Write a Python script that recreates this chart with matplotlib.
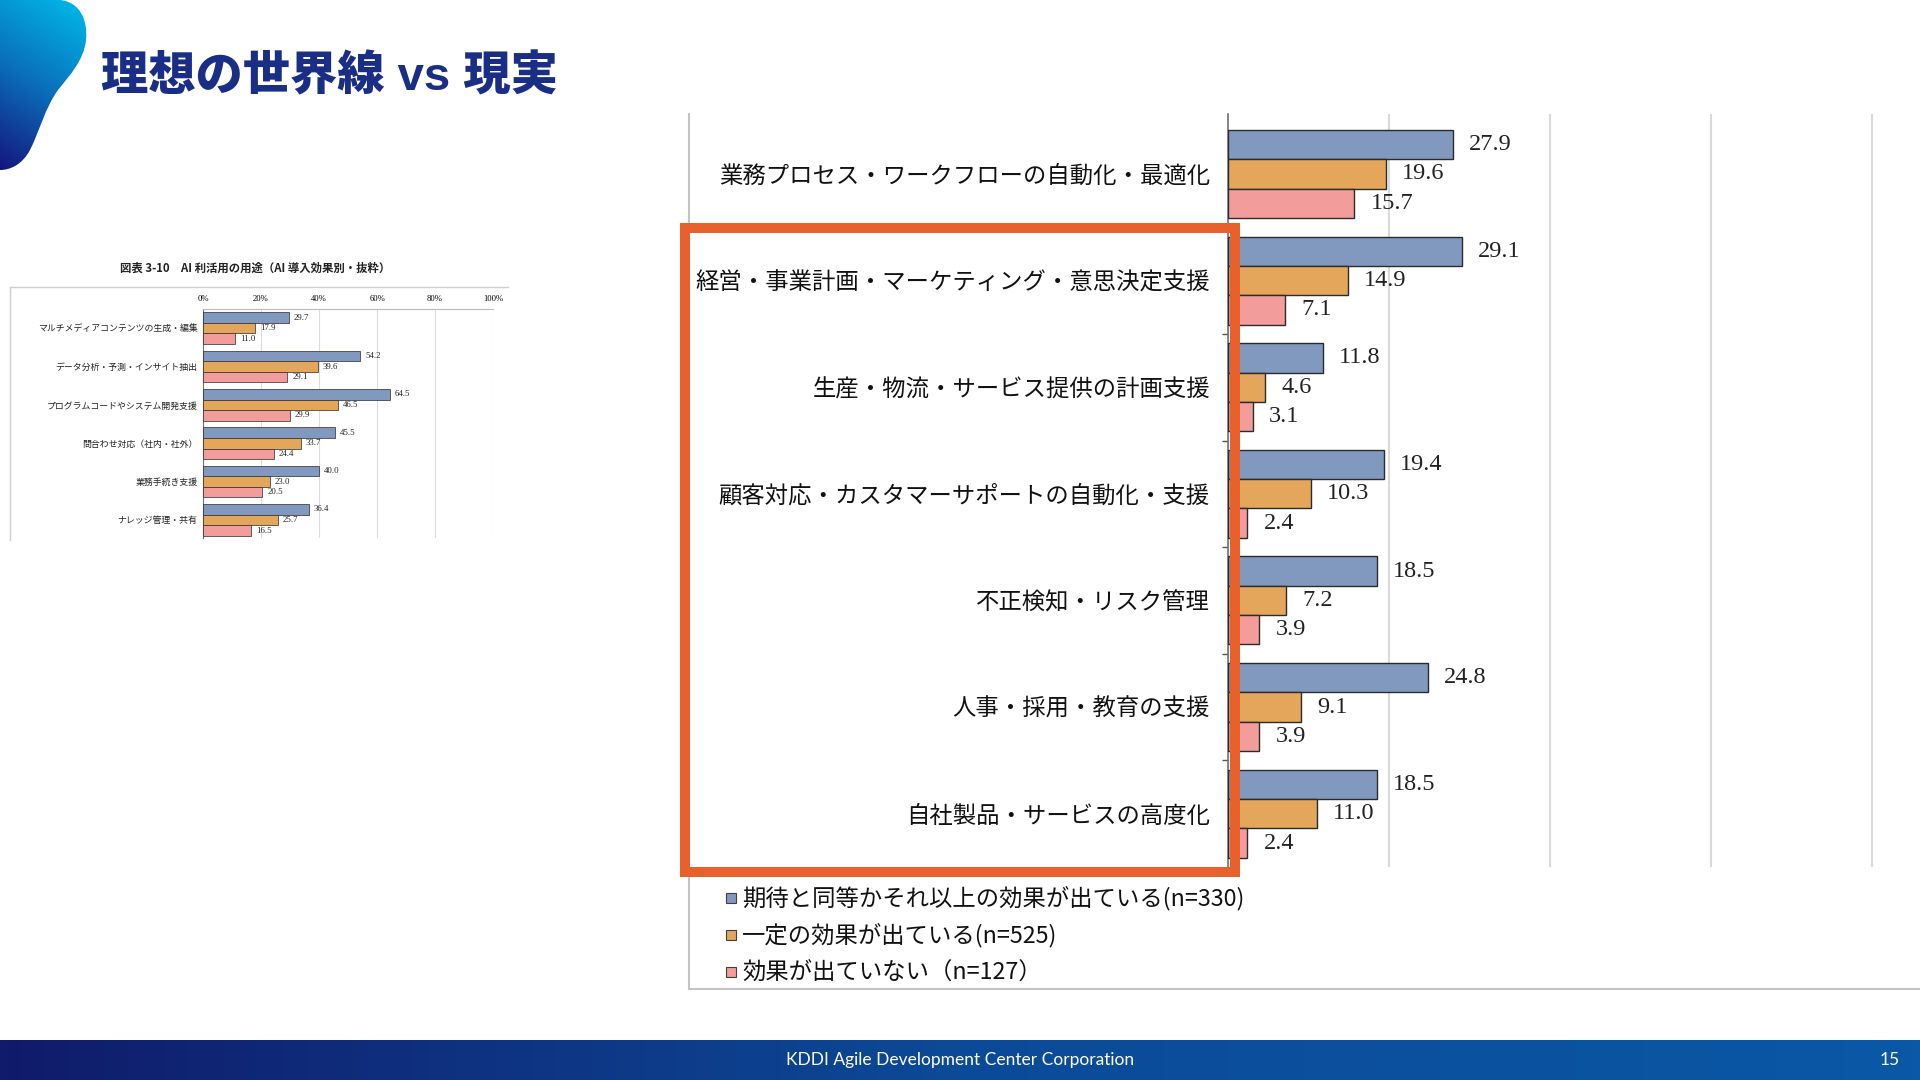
import matplotlib.pyplot as plt
import numpy as np
from matplotlib.patches import Rectangle, PathPatch
from matplotlib.path import Path
from matplotlib.colors import LinearSegmentedColormap

plt.rcParams['font.family'] = ['Noto Sans CJK JP', 'DejaVu Sans']

# Main chart (right)
categories = ['業務プロセス・ワークフローの自動化・最適化',
              '経営・事業計画・マーケティング・意思決定支援',
              '生産・物流・サービス提供の計画支援',
              '顧客対応・カスタマーサポートの自動化・支援',
              '不正検知・リスク管理',
              '人事・採用・教育の支援',
              '自社製品・サービスの高度化']
expected_or_more = [27.9, 29.1, 11.8, 19.4, 18.5, 24.8, 18.5]
some_effect = [19.6, 14.9, 4.6, 10.3, 7.2, 9.1, 11.0]
no_effect = [15.7, 7.1, 3.1, 2.4, 3.9, 3.9, 2.4]
series_labels = ['期待と同等かそれ以上の効果が出ている(n=330)',
                 '一定の効果が出ている(n=525)',
                 '効果が出ていない（n=127）']

# Small chart (left)
inset_title = '図表 3-10　AI 利活用の用途（AI 導入効果別・抜粋）'
inset_categories = ['マルチメディアコンテンツの生成・編集',
                    'データ分析・予測・インサイト抽出',
                    'プログラムコードやシステム開発支援',
                    '問合わせ対応（社内・社外）',
                    '業務手続き支援',
                    'ナレッジ管理・共有']
inset_expected = [29.7, 54.2, 64.5, 45.5, 40.0, 36.4]
inset_some = [17.9, 39.6, 46.5, 33.7, 23.0, 25.7]
inset_none = [11.0, 29.1, 29.9, 24.4, 20.5, 16.5]
inset_ticks = [0, 20, 40, 60, 80, 100]

title = '理想の世界線 vs 現実'
footer = 'KDDI Agile Development Center Corporation'
page_no = '15'

colors = ['#8199BF', '#E3A65B', '#F29C9C']
edge = '#2B2B2B'
serif = ['Liberation Serif', 'DejaVu Serif']
W, H = 1920, 1080

fig = plt.figure(figsize=(19.2, 10.8), dpi=100)
fig.patch.set_facecolor('white')


def px_axes(x0, y0, x1, y1, z=1):
    a = fig.add_axes([x0 / W, 1 - y1 / H, (x1 - x0) / W, (y1 - y0) / H])
    a.set_zorder(z)
    a.patch.set_alpha(0)
    return a


# background / decoration layer in pixel coords
bg = px_axes(0, 0, W, H, z=0)
bg.set_xlim(0, W)
bg.set_ylim(H, 0)
bg.axis('off')

# corner blob with gradient
blob_cmap = LinearSegmentedColormap.from_list('blob', ['#00BDEC', '#0A70BC', '#15127A'])
gx, gy = np.meshgrid(np.linspace(0, 1, 100), np.linspace(0, 1, 200))
grad = 0.75 * gy + 0.25 * (1 - gx)
blob_img = bg.imshow(grad, cmap=blob_cmap, extent=(0, 90, 175, 0), origin='upper', aspect='auto')
verts = [(0, 0), (60, 0),
         (80, 2), (88, 20), (86, 40),
         (84, 60), (70, 75), (58, 90),
         (45, 108), (40, 130), (30, 150),
         (22, 165), (10, 170), (0, 170),
         (0, 0)]
codes = [Path.MOVETO, Path.LINETO] + [Path.CURVE4] * 12 + [Path.CLOSEPOLY]
blob = PathPatch(Path(verts, codes), facecolor='none', edgecolor='none')
bg.add_patch(blob)
blob_img.set_clip_path(blob)

bg.text(101, 78, title, fontsize=34, fontweight='heavy', color='#1B2E85', va='center', ha='left',
        family=['Liberation Sans', 'Noto Sans CJK JP'])

# footer band
foot_cmap = LinearSegmentedColormap.from_list('foot', ['#101B6A', '#0C4A98', '#0A58A6'])
bg.imshow(np.linspace(0, 1, 256).reshape(1, -1), cmap=foot_cmap,
          extent=(0, W, H, 1040), aspect='auto')
bg.text(960, 1060, footer, color='white', fontsize=12.5,
        family=['Lato', 'DejaVu Sans'], ha='center', va='center')
bg.text(1890, 1060, page_no, color='white', fontsize=12.5,
        family=['Lato', 'DejaVu Sans'], ha='center', va='center')
bg.set_xlim(0, W)
bg.set_ylim(H, 0)

# frame of the pasted main chart
bg.plot([689, 689], [114, 989], color='#C4C4C4', lw=1.5)
bg.plot([689, W], [989, 989], color='#C4C4C4', lw=1.5)

# legend of the main chart
for i, (lab, c) in enumerate(zip(series_labels, colors)):
    yy = 898 + i * 37
    bg.add_patch(Rectangle((726, yy - 5), 10, 10, facecolor=c, edgecolor='#404040', lw=0.8))
    bg.text(742, yy, lab, fontsize=16.8, va='center', ha='left', color='#111111')

# frame + title of the small chart
bg.plot([10, 508], [287, 287], color='#CFCFCF', lw=1.0)
bg.plot([10, 10], [287, 540], color='#CFCFCF', lw=1.0)
bg.text(255, 268, inset_title, fontsize=8.2, fontweight='bold', ha='center', va='center', color='#222222')

offsets = [-0.275, 0.0, 0.275]
bar_h = 0.275

# ---- main chart
ax = px_axes(1228, 114, W, 867, z=1)
n = len(categories)
ypos = np.arange(n)
for vals, off, c in zip([expected_or_more, some_effect, no_effect], offsets, colors):
    ax.barh(ypos + off, vals, height=bar_h, color=c, edgecolor=edge, linewidth=1.0, zorder=3)
    for yi, v in zip(ypos + off, vals):
        ax.text(v + 2.0, yi, f'{v:.1f}', va='center', ha='left', fontsize=17.5,
                family=serif, color='#222222')
ax.set_xlim(0, (W - 1228) / 8.05)
ax.set_ylim(n - 0.5, -0.5625)
ax.set_xticks([20, 40, 60, 80])
ax.set_xticklabels([])
ax.tick_params(axis='x', length=0)
ax.grid(axis='x', color='#D9D9D9', lw=1.5, zorder=0)
ax.set_yticks(ypos)
ax.set_yticklabels(categories, fontsize=16.8, color='#111111')
ax.set_yticks(np.arange(1, n) - 0.5, minor=True)
ax.tick_params(axis='y', which='major', length=0, pad=13)
ax.tick_params(axis='y', which='minor', length=4, color='#555555', width=1)
for s in ['top', 'right', 'bottom']:
    ax.spines[s].set_visible(False)
ax.spines['left'].set_color('#707070')
ax.spines['left'].set_linewidth(1.2)

# ---- small chart
ia = px_axes(203, 309, 493, 538, z=1)
m = len(inset_categories)
ipos = np.arange(m)
for vals, off, c in zip([inset_expected, inset_some, inset_none], offsets, colors):
    ia.barh(ipos + off, vals, height=bar_h, color=c, edgecolor=edge, linewidth=0.5, zorder=3)
    for yi, v in zip(ipos + off, vals):
        ia.text(v + 1.7, yi, f'{v:.1f}', va='center', ha='left', fontsize=6.3,
                family=serif, color='#222222')
ia.set_xlim(0, 100)
ia.set_ylim(m - 0.53, -0.5)
ia.xaxis.tick_top()
ia.set_xticks(inset_ticks)
ia.set_xticklabels([f'{t}%' for t in inset_ticks], fontsize=6.2, family=serif)
ia.tick_params(axis='x', length=0, pad=4)
ia.grid(axis='x', color='#DCDCDC', lw=0.8, zorder=0)
ia.set_yticks(ipos)
ia.set_yticklabels(inset_categories, fontsize=6.4, color='#222222')
ia.tick_params(axis='y', length=0, pad=4)
for s in ['right', 'bottom']:
    ia.spines[s].set_visible(False)
ia.spines['top'].set_color('#BBBBBB')
ia.spines['left'].set_color('#707070')
ia.spines['left'].set_linewidth(0.8)

# ---- highlight box on top
ov = px_axes(0, 0, W, H, z=3)
ov.set_xlim(0, W)
ov.set_ylim(H, 0)
ov.axis('off')
ov.add_patch(Rectangle((685, 228), 550, 644, facecolor='none', edgecolor='#E8602C', lw=7.2))

fig.savefig('out.png', dpi=100)
